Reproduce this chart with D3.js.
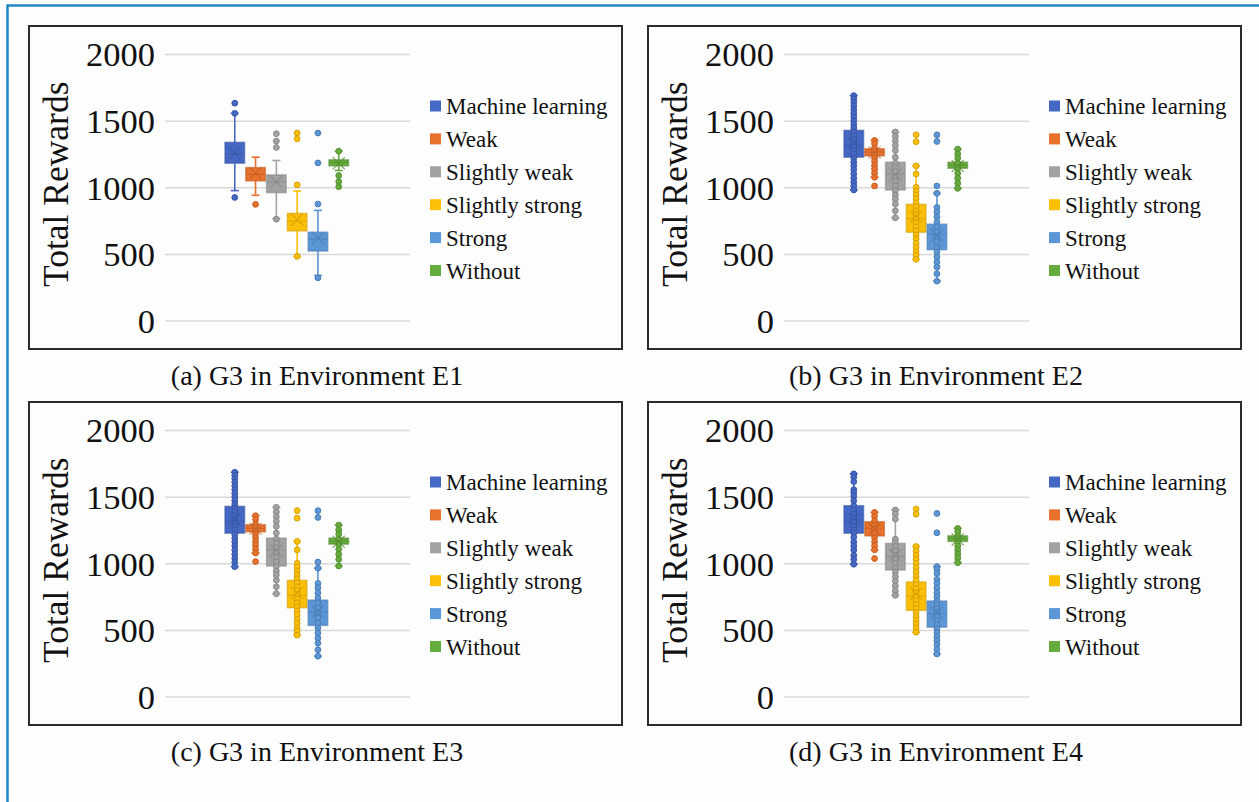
<!DOCTYPE html>
<html>
<head>
<meta charset="utf-8">
<script src="https://cdn.jsdelivr.net/npm/d3@7"></script>
<style>
  body { margin: 0; background: #fdfdfd; }
  svg { display: block; }
</style>
</head>
<body>
<svg id="chart" width="1259" height="802" font-family="Liberation Serif, Times New Roman, serif"></svg>
<script>
const seriesNames = ["Machine learning", "Weak", "Slightly weak", "Slightly strong", "Strong", "Without"];
const seriesColors = ["#4468c4", "#e8712c", "#a2a2a2", "#fcbf07", "#5b96d6", "#65ab3d"];
const yTicks = [0, 500, 1000, 1500, 2000];
const captions = ["(a) G3 in Environment E1", "(b) G3 in Environment E2", "(c) G3 in Environment E3", "(d) G3 in Environment E4"];

// box stats per series: [lower whisker, Q1, median, Q3, upper whisker, mean]
const statsE1 = [
	[975, 1181, 1251, 1337, 1555, 1256],
	[940, 1048, 1098, 1148, 1226, 1105],
	[766, 960, 1040, 1093, 1201, 1040],
	[482, 673, 746, 804, 972, 759],
	[339, 522, 613, 663, 827, 620],
	[1126, 1161, 1186, 1206, 1271, 1181]
];
const pointsE1 = [
	[1631, 1555, 924],
	[872],
	[1402, 1347, 1299, 761],
	[1407, 1364, 1018, 482],
	[1407, 1183, 874, 321],
	[1271, 1088, 1043, 1005]
];

const statsE2 = [
	[980, 1226, 1314, 1427, 1688, 1332],
	[1075, 1236, 1264, 1289, 1352, 1262],
	[771, 980, 1098, 1188, 1415, 1095],
	[460, 663, 766, 872, 1161, 780],
	[296, 532, 648, 723, 955, 640],
	[992, 1143, 1166, 1188, 1286, 1160]
];
const pointsE2 = [
	[1688, 1665, 1638, 1610, 1583, 1555, 1528, 1500, 1472, 1445, 1415, 1387, 1357, 1332, 1307, 1277, 1251, 1219, 1188, 1161, 1133, 1101, 1068, 1038, 1010, 980],
	[1352, 1327, 1294, 1269, 1244, 1219, 1194, 1163, 1136, 1106, 1075, 1010],
	[1415, 1382, 1349, 1314, 1276, 1226, 1181, 1151, 1118, 1080, 1043, 1010, 975, 942, 912, 874, 824, 771],
	[1394, 1342, 1161, 1100, 1000, 972, 942, 912, 884, 854, 824, 796, 766, 734, 703, 673, 643, 613, 578, 548, 515, 490, 460],
	[1394, 1344, 1010, 955, 849, 816, 779, 741, 703, 666, 628, 590, 552, 515, 477, 439, 402, 352, 296],
	[1286, 1251, 1219, 1181, 1143, 1105, 1068, 1030, 992]
];

const statsE3 = [
	[975, 1226, 1314, 1427, 1683, 1330],
	[1077, 1236, 1262, 1289, 1357, 1260],
	[772, 980, 1098, 1189, 1420, 1096],
	[461, 667, 760, 872, 1164, 778],
	[303, 534, 634, 724, 963, 640],
	[980, 1144, 1166, 1189, 1287, 1162]
];
const pointsE3 = [
	[1683, 1660, 1635, 1608, 1580, 1553, 1525, 1498, 1470, 1443, 1414, 1386, 1356, 1330, 1305, 1276, 1250, 1218, 1187, 1160, 1132, 1100, 1067, 1037, 1008, 975],
	[1357, 1330, 1296, 1270, 1244, 1219, 1193, 1162, 1135, 1105, 1077, 1013],
	[1420, 1385, 1350, 1315, 1277, 1227, 1182, 1150, 1117, 1080, 1043, 1010, 976, 942, 912, 874, 824, 772],
	[1395, 1339, 1164, 1101, 1000, 972, 942, 912, 884, 854, 824, 796, 766, 734, 703, 673, 643, 613, 578, 548, 515, 490, 461],
	[1395, 1344, 1010, 963, 849, 816, 779, 741, 703, 666, 628, 590, 552, 515, 477, 439, 402, 352, 303],
	[1287, 1251, 1219, 1181, 1143, 1105, 1068, 1030, 980]
];

const statsE4 = [
	[993, 1226, 1324, 1432, 1671, 1335],
	[1101, 1206, 1262, 1312, 1382, 1258],
	[760, 950, 1051, 1149, 1400, 1060],
	[483, 647, 755, 860, 1126, 772],
	[320, 521, 622, 717, 975, 630],
	[1005, 1164, 1186, 1206, 1262, 1178]
];
const pointsE4 = [
	[1671, 1646, 1613, 1553, 1533, 1503, 1470, 1432, 1400, 1370, 1340, 1310, 1280, 1250, 1226, 1195, 1160, 1130, 1100, 1060, 1030, 993],
	[1382, 1352, 1319, 1287, 1256, 1226, 1194, 1161, 1131, 1101, 1036],
	[1400, 1370, 1332, 1181, 1156, 1126, 1093, 1061, 1031, 1000, 968, 935, 900, 867, 830, 792, 760],
	[1407, 1369, 1126, 1093, 1061, 1031, 1000, 968, 935, 900, 872, 840, 810, 780, 750, 720, 690, 660, 630, 600, 570, 545, 515, 483],
	[1374, 1229, 975, 955, 925, 880, 850, 815, 780, 750, 717, 690, 660, 630, 600, 570, 540, 510, 480, 450, 420, 390, 355, 320],
	[1262, 1237, 1206, 1186, 1164, 1130, 1100, 1070, 1040, 1005]
];

const panelStats = [statsE1, statsE2, statsE3, statsE4];
const panelPoints = [pointsE1, pointsE2, pointsE3, pointsE4];

const FONT = "Liberation Serif, Times New Roman, serif";
const svg = d3.select("svg#chart");

// blue page border (only top and left edges are visible)
svg.append("rect")
	.attr("x", 7.5).attr("y", 5.5)
	.attr("width", 1400).attr("height", 1000)
	.attr("fill", "none")
	.attr("stroke", "#1d86c6")
	.attr("stroke-width", 2.5);

const panelW = 593;
const panelH = 323;
const origins = [[29, 26], [648, 26], [29, 402], [648, 402]];

const color = d3.scaleOrdinal(seriesNames, seriesColors);
const y = d3.scaleLinear([0, 2000], [294.6, 28]);
const x = d3.scaleBand(seriesNames, [196, 319.5]).paddingInner(0.06);
const bw = x.bandwidth();

const drawPanel = function (i) {
	const g = svg.append("g").attr("transform", `translate(${origins[i][0]},${origins[i][1]})`);

	g.append("rect")
		.attr("width", panelW)
		.attr("height", panelH)
		.attr("fill", "#fdfdfd")
		.attr("stroke", "#2b2b2b")
		.attr("stroke-width", 2);

	// gridlines
	g.append("g")
		.attr("transform", "translate(136,0)")
		.call(d3.axisLeft(y).tickValues(yTicks).tickSize(-245).tickFormat(""))
		.call((a) => a.select(".domain").remove())
		.call((a) => a.selectAll("line").attr("stroke", "#d9d9d9").attr("stroke-width", 1.5));

	// y labels
	g.append("g")
		.attr("transform", "translate(136,0)")
		.call(d3.axisLeft(y).tickValues(yTicks).tickSize(0).tickPadding(10).tickFormat(d3.format("d")))
		.call((a) => a.select(".domain").remove())
		.call((a) => a.attr("font-family", FONT).attr("font-size", 34.5))
		.call((a) => a.selectAll("text")
			.attr("fill", "#111")
			.attr("dy", "0.34em"));

	g.append("text")
		.attr("transform", `translate(27,${y(1000) - 3}) rotate(-90)`)
		.attr("text-anchor", "middle")
		.attr("dy", "0.35em")
		.attr("font-family", FONT)
		.attr("font-size", 35.5)
		.attr("fill", "#111")
		.text("Total Rewards");

	const stats = panelStats[i];
	const pts = panelPoints[i];

	seriesNames.forEach((name, k) => {
		const c = color(name);
		const dark = d3.color(c).darker(0.5);
		const [lo, q1, med, q3, hi, mean] = stats[k];
		const cx = x(name) + bw / 2;
		const s = g.append("g");

		// whiskers
		s.append("line")
			.attr("x1", cx).attr("x2", cx)
			.attr("y1", y(hi)).attr("y2", y(q3))
			.attr("stroke", c).attr("stroke-width", 1.6);
		s.append("line")
			.attr("x1", cx).attr("x2", cx)
			.attr("y1", y(q1)).attr("y2", y(lo))
			.attr("stroke", c).attr("stroke-width", 1.6);
		s.selectAll("line.cap")
			.data([lo, hi])
			.join("line")
			.attr("class", "cap")
			.attr("x1", cx - 4).attr("x2", cx + 4)
			.attr("y1", (d) => y(d)).attr("y2", (d) => y(d))
			.attr("stroke", c).attr("stroke-width", 1.6);

		// box
		s.append("rect")
			.attr("x", x(name))
			.attr("y", y(q3))
			.attr("width", bw)
			.attr("height", y(q1) - y(q3))
			.attr("fill", c)
			.attr("stroke", dark)
			.attr("stroke-opacity", 0.6)
			.attr("stroke-width", 1.5);

		s.append("line")
			.attr("x1", x(name)).attr("x2", x(name) + bw)
			.attr("y1", y(med)).attr("y2", y(med))
			.attr("stroke", dark).attr("stroke-opacity", 0.6).attr("stroke-width", 1.3);

		// points
		s.selectAll("circle")
			.data(pts[k])
			.join("circle")
			.attr("cx", cx)
			.attr("cy", (d) => y(d))
			.attr("r", 2.9)
			.attr("fill", c)
			.attr("stroke", dark)
			.attr("stroke-width", 1);

		// mean marker
		const m = 6;
		s.append("path")
			.attr("d", `M${cx - m},${y(mean) - m}L${cx + m},${y(mean) + m}M${cx - m},${y(mean) + m}L${cx + m},${y(mean) - m}`)
			.attr("stroke", dark)
			.attr("stroke-opacity", 0.7)
			.attr("stroke-width", 1.3)
			.attr("fill", "none");
	});

	// legend
	const legend = g.append("g").attr("transform", "translate(401,80)");
	const rows = legend.selectAll("g")
		.data(seriesNames)
		.join("g")
		.attr("transform", (d, k) => `translate(0,${k * 32.9})`);
	rows.append("rect")
		.attr("x", 0).attr("y", -5.5)
		.attr("width", 11).attr("height", 11)
		.attr("fill", (d) => color(d));
	rows.append("text")
		.attr("x", 16)
		.attr("dy", "0.35em")
		.attr("font-family", FONT)
		.attr("font-size", 23)
		.attr("fill", "#111")
		.text((d) => d);

	// caption
	g.append("text")
		.attr("x", 288)
		.attr("y", panelH + 36)
		.attr("text-anchor", "middle")
		.attr("font-family", FONT)
		.attr("font-size", 28)
		.attr("fill", "#111")
		.text(captions[i]);
};

[0, 1, 2, 3].forEach(drawPanel);
</script>
</body>
</html>
